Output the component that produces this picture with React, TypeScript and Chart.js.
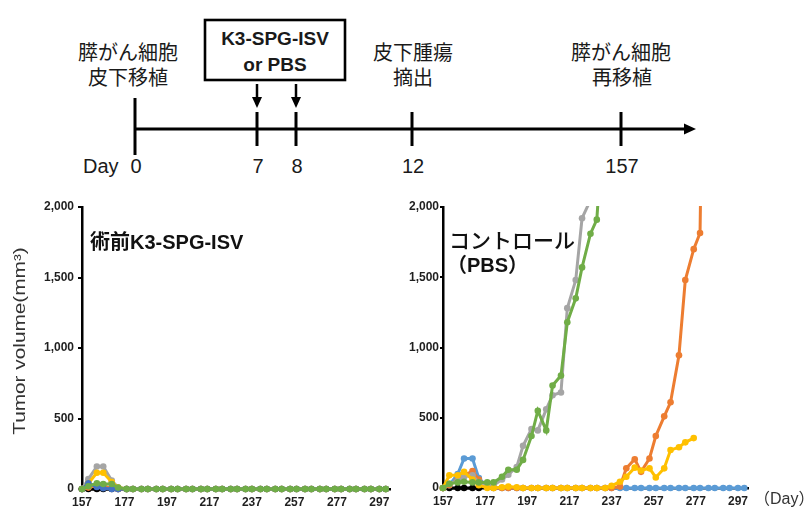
import React, { useEffect, useRef } from 'react';
import { Chart, registerables } from 'chart.js';

Chart.register(...registerables);

// ---------- data ----------
const days = [157, 160, 164, 167, 171, 174, 178, 181, 185, 188, 192, 195, 199, 202, 206, 209, 213, 216, 220, 223, 227, 230, 234, 237, 241, 244, 248, 251, 255, 258, 262, 265, 269, 272, 276, 279, 283, 286, 290, 293, 297, 300];
const xTickLabels = [157, 177, 197, 217, 237, 257, 277, 297];
const yTickValues = [0, 500, 1000, 1500, 2000];

// 術前K3-SPG-ISV group
const leftBlue = [0, 15, 30, 20, 5, 0, 0, 0, 0, 0, 0, 0, 0, 0, 0, 0, 0, 0, 0, 0, 0, 0, 0, 0, 0, 0, 0, 0, 0, 0, 0, 0, 0, 0, 0, 0, 0, 0, 0, 0, 0, 0];
const leftOrange = [0, 10, 25, 20, 5, 0, 0, 0, 0, 0, 0, 0, 0, 0, 0, 0, 0, 0, 0, 0, 0, 0, 0, 0, 0, 0, 0, 0, 0, 0, 0, 0, 0, 0, 0, 0, 0, 0, 0, 0, 0, 0];
const leftGray = [0, 70, 160, 160, 60, 10, 0, 0, 0, 0, 0, 0, 0, 0, 0, 0, 0, 0, 0, 0, 0, 0, 0, 0, 0, 0, 0, 0, 0, 0, 0, 0, 0, 0, 0, 0, 0, 0, 0, 0, 0, 0];
const leftYellow = [0, 40, 115, 115, 50, 10, 0, 0, 0, 0, 0, 0, 0, 0, 0, 0, 0, 0, 0, 0, 0, 0, 0, 0, 0, 0, 0, 0, 0, 0, 0, 0, 0, 0, 0, 0, 0, 0, 0, 0, 0, 0];
const leftDarkBlue = [0, 40, 15, 5, 0, 0, 0, 0, 0, 0, 0, 0, 0, 0, 0, 0, 0, 0, 0, 0, 0, 0, 0, 0, 0, 0, 0, 0, 0, 0, 0, 0, 0, 0, 0, 0, 0, 0, 0, 0, 0, 0];
const leftGreen = [0, 20, 40, 35, 35, 10, 0, 0, 0, 0, 0, 0, 0, 0, 0, 0, 0, 0, 0, 0, 0, 0, 0, 0, 0, 0, 0, 0, 0, 0, 0, 0, 0, 0, 0, 0, 0, 0, 0, 0, 0, 0];
const leftBlack = [0, 0, 0, 0, 0, 0, 0];

// コントロール (PBS) group
const rightBlue = [0, 20, 100, 210, 210, 70, 10, 0, 0, 0, 0, 0, 0, 0, 0, 0, 0, 0, 0, 0, 0, 0, 0, 0, 0, 0, 0, 0, 0, 0, 0, 0, 0, 0, 0, 0, 0, 0, 0, 0, 0, 0];
const rightOrange = [0, 20, 60, 90, 120, 60, 10, 0, 0, 0, 0, 0, 0, 0, 0, 0, 0, 0, 0, 0, 0, 0, 0, 0, 10, 140, 205, 115, 210, 370, 510, 610, 945, 1480, 1700, 1815, 6000];
const rightGray = [0, 30, 50, 80, 90, 40, 20, 20, 60, 95, 150, 300, 420, 410, 560, 660, 680, 1280, 1480, 1920, 2050, 2500];
const rightYellow = [0, 90, 90, 115, 60, 20, 0, 0, 5, 10, 5, 0, 0, 0, 0, 0, 0, 0, 0, 0, 0, 0, 0, 15, 45, 80, 145, 125, 140, 75, 140, 270, 290, 325, 355];
const rightGreen = [0, 30, 40, 45, 40, 40, 40, 40, 80, 130, 130, 200, 370, 550, 410, 730, 800, 1180, 1350, 1570, 1810, 1910, 2800];
const rightBlack = [0, 0, 0, 0, 0, 0];

const FONT = '"Liberation Sans", Arial, "Noto Sans CJK JP", sans-serif';
const TEXT = '#1f1f1f';

const pts = (vals: number[]) => vals.map((v, i) => ({ x: days[i], y: v }));

const ds = (label: string, color: string, vals: number[]) => ({
  label,
  data: pts(vals),
  borderColor: color,
  backgroundColor: color,
  pointBackgroundColor: color,
  pointBorderColor: color,
  pointBorderWidth: 0,
  pointRadius: 3.3,
  borderWidth: 3,
  tension: 0,
  fill: false,
  clip: { left: 6, top: 1, right: 6, bottom: 8 },
});

type TextItem = { text: string; x: number; y: number; font: string; color?: string; align?: CanvasTextAlign; rotate?: number; sx?: number };

const textPlugin = (items: TextItem[]) => ({
  id: 'extraTexts',
  afterDraw(chart: any) {
    const ctx = chart.ctx as CanvasRenderingContext2D;
    items.forEach((it) => {
      ctx.save();
      ctx.font = it.font;
      ctx.fillStyle = it.color || '#111';
      ctx.textAlign = it.align || 'left';
      ctx.textBaseline = 'middle';
      ctx.translate(it.x, it.y);
      if (it.rotate) ctx.rotate(it.rotate);
      if (it.sx) ctx.scale(it.sx, 1);
      ctx.fillText(it.text, 0, 0);
      ctx.restore();
    });
  },
});

const makeOptions = (yWidth: number, xHeight: number, padRight: number, yPad: number, yTickLen: number) => ({
  responsive: false,
  animation: false as const,
  events: [] as any[],
  layout: { padding: { top: 17, right: padRight, left: 0, bottom: 0 } },
  plugins: { legend: { display: false }, tooltip: { enabled: false } },
  scales: {
    x: {
      type: 'linear' as const,
      min: 157,
      max: 302,
      afterBuildTicks: (s: any) => {
        s.ticks = xTickLabels.map((v) => ({ value: v }));
      },
      afterFit: (s: any) => {
        s.height = xHeight;
      },
      ticks: {
        autoSkip: false,
        maxRotation: 0,
        padding: 6,
        color: TEXT,
        font: { family: FONT, size: 12, weight: 'bold' as const },
        callback: (v: any) => String(v),
      },
      grid: { display: false, drawTicks: false },
      border: { display: true, color: '#000', width: 2.5 },
    },
    y: {
      min: 0,
      max: 2000,
      afterBuildTicks: (s: any) => {
        s.ticks = yTickValues.map((v) => ({ value: v }));
      },
      afterFit: (s: any) => {
        s.width = yWidth;
      },
      ticks: {
        padding: yPad,
        color: TEXT,
        font: { family: FONT, size: 12, weight: 'bold' as const },
        callback: (v: any) => Number(v).toLocaleString('en-US'),
      },
      grid: { display: true, drawOnChartArea: false, drawTicks: true, tickLength: yTickLen, color: '#000', lineWidth: 2 },
      border: { display: true, color: '#000', width: 2.5 },
    },
  },
});

function LineCanvas({ width, height, left, top, datasets, options, texts }: any) {
  const ref = useRef<HTMLCanvasElement>(null);
  useEffect(() => {
    if (!ref.current) return;
    const chart = new Chart(ref.current, {
      type: 'line',
      data: { datasets },
      options,
      plugins: [textPlugin(texts)],
    } as any);
    return () => chart.destroy();
  }, []);
  return (
    <canvas
      ref={ref}
      width={width}
      height={height}
      style={{ position: 'absolute', left, top, width, height }}
    />
  );
}

function Timeline() {
  const evLabels = ['0', '7', '8', '12', '157'];
  const evX = [135, 257, 296, 412, 621];
  const txt = { fontFamily: FONT, fill: '#1a1a1a' } as any;
  return (
    <svg width={806} height={190} style={{ position: 'absolute', left: 0, top: 0 }}>
      <line x1={134} y1={129} x2={686} y2={129} stroke="#000" strokeWidth={3} />
      <polygon points="696,129 684,123.5 684,134.5" fill="#000" />
      <line x1={135} y1={98} x2={135} y2={155} stroke="#000" strokeWidth={3} />
      {evX.slice(1).map((x) => (
        <line key={x} x1={x} y1={112} x2={x} y2={146} stroke="#000" strokeWidth={3} />
      ))}
      {[evX[1], evX[2]].map((x) => (
        <g key={'a' + x}>
          <line x1={x} y1={84} x2={x} y2={99} stroke="#000" strokeWidth={2.5} />
          <polygon points={`${x - 5},97 ${x + 5},97 ${x},108`} fill="#000" />
        </g>
      ))}
      <rect x={205} y={20} width={140} height={60} fill="none" stroke="#000" strokeWidth={2.6} />
      <text x={275} y={45} textAnchor="middle" fontSize={19} fontWeight="bold" {...txt}>K3-SPG-ISV</text>
      <text x={275} y={71} textAnchor="middle" fontSize={19} fontWeight="bold" {...txt}>or PBS</text>

      <text x={128} y={60} textAnchor="middle" fontSize={20} {...txt}>膵がん細胞</text>
      <text x={128} y={85} textAnchor="middle" fontSize={20} {...txt}>皮下移植</text>
      <text x={413} y={60} textAnchor="middle" fontSize={20} {...txt}>皮下腫瘍</text>
      <text x={413} y={85} textAnchor="middle" fontSize={20} {...txt}>摘出</text>
      <text x={621} y={60} textAnchor="middle" fontSize={20} {...txt}>膵がん細胞</text>
      <text x={622} y={85} textAnchor="middle" fontSize={20} {...txt}>再移植</text>

      <text x={83} y={173} fontSize={20} {...txt}>Day</text>
      {evLabels.map((l, i) => (
        <text key={l} x={evX[i] + 1} y={173} textAnchor="middle" fontSize={20} {...txt}>{l}</text>
      ))}
    </svg>
  );
}

export default function App() {
  const leftSets = [
    ds('green', '#70AD47', leftGreen),
    ds('darkblue', '#4472C4', leftDarkBlue),
    ds('yellow', '#FFC000', leftYellow),
    ds('gray', '#A5A5A5', leftGray),
    ds('orange', '#ED7D31', leftOrange),
    ds('blue', '#5B9BD5', leftBlue),
    ds('black', '#000000', leftBlack),
  ];
  const rightSets = [
    ds('green', '#70AD47', rightGreen),
    ds('yellow', '#FFC000', rightYellow),
    ds('gray', '#A5A5A5', rightGray),
    ds('orange', '#ED7D31', rightOrange),
    ds('blue', '#5B9BD5', rightBlue),
    ds('black', '#000000', rightBlack),
  ];
  const leftTexts: TextItem[] = [
    { text: '術前K3-SPG-ISV', x: 90, y: 53, font: `bold 20px ${FONT}` },
    { text: 'Tumor volume(mm³)', x: 21, y: 151, font: `16px ${FONT}`, color: '#333', align: 'center', rotate: -Math.PI / 2, sx: 1.3 },
  ];
  const rightTexts: TextItem[] = [
    { text: 'コントロール', x: 49, y: 52, font: `500 21px ${FONT}` },
    { text: '（PBS）', x: 47, y: 76, font: `bold 20px ${FONT}` },
    { text: '（Day）', x: 354, y: 310, font: `16px ${FONT}`, color: '#333' },
  ];
  return (
    <div style={{ position: 'absolute', left: 0, top: 0, width: 806, height: 513, background: '#fff', overflow: 'hidden' }}>
      <Timeline />
      <LineCanvas width={400} height={323} left={0} top={190} datasets={leftSets} options={makeOptions(82, 24, 10, 4, 4)} texts={leftTexts} />
      <LineCanvas width={406} height={323} left={400} top={190} datasets={rightSets} options={makeOptions(43, 25, 57.5, 1, 3)} texts={rightTexts} />
    </div>
  );
}
